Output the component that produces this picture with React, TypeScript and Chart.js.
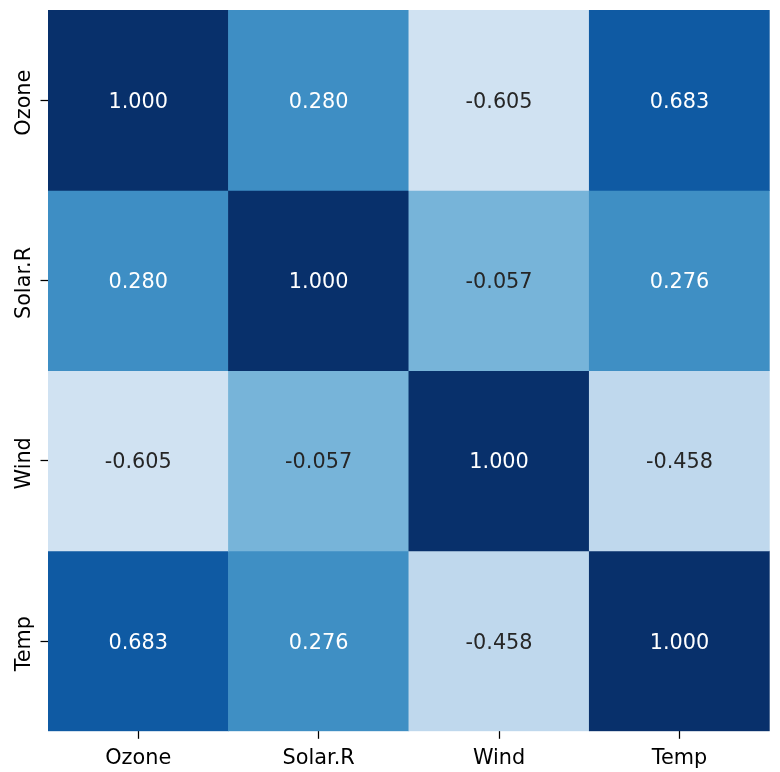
import React, { useEffect, useRef } from "react";
import { Chart, registerables } from "chart.js";

Chart.register(...registerables);

const categories = ["Ozone", "Solar.R", "Wind", "Temp"];
const rowOzone = [1.0, 0.28, -0.605, 0.683];
const rowSolar = [0.28, 1.0, -0.057, 0.276];
const rowWind = [-0.605, -0.057, 1.0, -0.458];
const rowTemp = [0.683, 0.276, -0.458, 1.0];
const rows = [rowOzone, rowSolar, rowWind, rowTemp];
const vmin = -1;
const vmax = 1;

const BLUES = ["#f7fbff", "#deebf7", "#c6dbef", "#9ecae1", "#6baed6", "#4292c6", "#2171b5", "#08519c", "#08306b"];

function hexToRgb(h: string): number[] {
  return [parseInt(h.slice(1, 3), 16), parseInt(h.slice(3, 5), 16), parseInt(h.slice(5, 7), 16)];
}

function bluesRgb(t: number): number[] {
  const tt = Math.max(0, Math.min(1, t));
  const pos = tt * (BLUES.length - 1);
  const i = Math.min(BLUES.length - 2, Math.floor(pos));
  const f = pos - i;
  const a = hexToRgb(BLUES[i]);
  const b = hexToRgb(BLUES[i + 1]);
  return [0, 1, 2].map((k) => Math.round(a[k] + (b[k] - a[k]) * f));
}

function colorFor(v: number): string {
  const c = bluesRgb((v - vmin) / (vmax - vmin));
  return `rgb(${c[0]},${c[1]},${c[2]})`;
}

function textColorFor(v: number): string {
  const c = bluesRgb((v - vmin) / (vmax - vmin)).map((x) => {
    const s = x / 255;
    return s <= 0.03928 ? s / 12.92 : Math.pow((s + 0.055) / 1.055, 2.4);
  });
  const lum = 0.2126 * c[0] + 0.7152 * c[1] + 0.0722 * c[2];
  return lum > 0.408 ? "#262626" : "#ffffff";
}

const FONT = '20.8px "DejaVu Sans"';

const labelPlugin = {
  id: "heatLabels",
  afterDraw(chart: any) {
    const ctx = chart.ctx;
    const xs = chart.scales.x;
    const ys = chart.scales.y;
    ctx.save();
    ctx.font = FONT;
    // annotations
    rows.forEach((row, r) => {
      row.forEach((v, c) => {
        const px = xs.getPixelForValue(c);
        const py = ys.getPixelForValue(r + 0.5);
        ctx.fillStyle = textColorFor(v);
        ctx.textAlign = "center";
        ctx.textBaseline = "alphabetic";
        ctx.fillText(v.toFixed(3), px, py + 7.6);
      });
    });
    // x tick labels
    ctx.fillStyle = "#000000";
    categories.forEach((lab, c) => {
      const px = xs.getPixelForValue(c);
      ctx.textAlign = "center";
      ctx.textBaseline = "alphabetic";
      ctx.fillText(lab, px, 764);
    });
    // y tick labels (rotated)
    categories.forEach((lab, r) => {
      const py = ys.getPixelForValue(r + 0.5);
      ctx.save();
      ctx.translate(29.5, py + 2.5);
      ctx.rotate(-Math.PI / 2);
      ctx.textAlign = "center";
      ctx.textBaseline = "alphabetic";
      ctx.fillText(lab, 0, 0);
      ctx.restore();
    });
    ctx.restore();
  },
};

const bgPlugin = {
  id: "bgWhite",
  beforeDraw(chart: any) {
    const ctx = chart.ctx;
    ctx.save();
    ctx.fillStyle = "#ffffff";
    ctx.fillRect(0, 0, chart.width, chart.height);
    ctx.restore();
  },
};

export default function App() {
  const ref = useRef<HTMLCanvasElement | null>(null);
  useEffect(() => {
    if (!ref.current) return;
    const datasets = rows.map((row, r) => ({
      label: categories[r],
      data: row.map(() => [r, r + 1]),
      backgroundColor: row.map((v) => colorFor(v)),
      borderWidth: 0,
      borderSkipped: false,
      barPercentage: 1,
      categoryPercentage: 1,
      grouped: false,
    }));
    const chart = new Chart(ref.current, {
      type: "bar",
      data: { labels: categories, datasets: datasets as any },
      plugins: [bgPlugin, labelPlugin],
      options: {
        animation: false,
        responsive: true,
        maintainAspectRatio: false,
        layout: { padding: { top: 10, right: 10.3, bottom: 0, left: 0 } },
        plugins: { legend: { display: false }, tooltip: { enabled: false } },
        scales: {
          x: {
            type: "category",
            offset: true,
            grid: {
              offset: false,
              drawOnChartArea: false,
              drawTicks: true,
              tickLength: 7.5,
              tickColor: "#000000",
              tickWidth: 1.25,
            },
            border: { display: false },
            ticks: { display: false },
            afterFit(scale: any) {
              scale.height = 40.7;
            },
          },
          y: {
            type: "linear",
            min: 0,
            max: 4,
            reverse: true,
            grid: {
              drawOnChartArea: false,
              drawTicks: true,
              tickLength: 7.5,
              tickColor: "#000000",
              tickWidth: 1.25,
            },
            border: { display: false },
            ticks: { display: false },
            afterBuildTicks(scale: any) {
              scale.ticks = [0.5, 1.5, 2.5, 3.5].map((v) => ({ value: v }));
            },
            afterFit(scale: any) {
              scale.width = 48;
            },
          },
        },
      } as any,
    });
    return () => chart.destroy();
  }, []);
  return (
    <div style={{ position: "fixed", left: 0, top: 0, width: 780, height: 772, background: "#fff" }}>
      <canvas ref={ref} />
    </div>
  );
}
